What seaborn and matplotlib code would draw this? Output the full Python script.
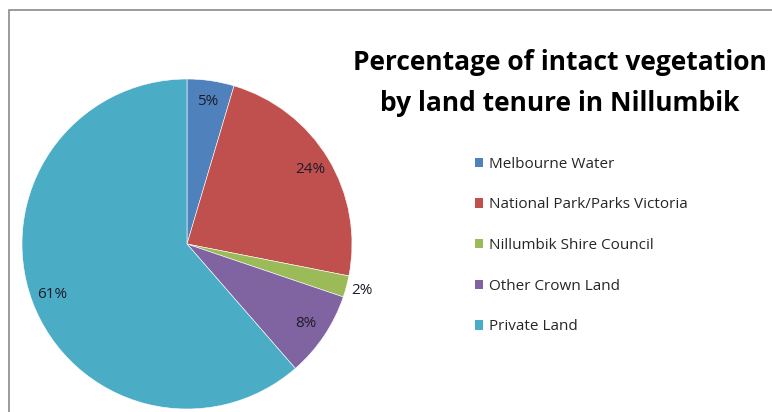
import numpy as np
import matplotlib
matplotlib.use("Agg")
import matplotlib.pyplot as plt
from matplotlib.patches import Rectangle, Patch
import seaborn as sns

categories = ["Melbourne Water", "National Park/Parks Victoria",
              "Nillumbik Shire Council", "Other Crown Land", "Private Land"]
values = [4.6, 23.5, 2.1, 8.4, 61.4]
pct_labels = ["5%", "24%", "2%", "8%", "61%"]
title = "Percentage of intact vegetation\nby land tenure in Nillumbik"
colors = ["#4F81BD", "#C0504D", "#9BBB59", "#8064A2", "#4BACC6"]

sns.set_theme(style="white")
plt.rcParams["font.family"] = ["Open Sans", "DejaVu Sans"]

W, H = 772, 412
fig = plt.figure(figsize=(W / 100, H / 100), dpi=100)
fig.patch.set_facecolor("white")

# border (top/left visible)
fig.add_artist(Rectangle((9 / W, -0.2), 1.5, 1.2 - 10 / H,
                         transform=fig.transFigure, fill=False,
                         edgecolor="#8a8a8a", linewidth=1.2))

cx, cy, R = 187, 244, 165
ax = fig.add_axes([(cx - R) / W, (H - cy - R) / H, 2 * R / W, 2 * R / H])
wedges, _ = ax.pie(values, colors=colors, startangle=90, counterclock=False,
                   radius=1.0, wedgeprops=dict(edgecolor="white", linewidth=0.4))
ax.set_xlim(-1, 1)
ax.set_ylim(-1, 1)
ax.set_aspect("equal")
ax.axis("off")

for w, lab, v in zip(wedges, pct_labels, values):
    ang = np.deg2rad((w.theta1 + w.theta2) / 2)
    r = 1.1 if v < 3 else 0.87
    ax.text(r * np.cos(ang), r * np.sin(ang), lab, ha="center", va="center",
            fontsize=11, color="#1c1c2a", clip_on=False)

fig.text(560 / W, 1 - 83 / H, title, ha="center", va="center",
         fontsize=19, fontweight="bold", color="#000000", linespacing=1.62)

handles = [Patch(facecolor=c, edgecolor="none") for c in colors]
leg = fig.legend(handles, categories, loc="upper left",
                 bbox_to_anchor=(461 / W, 1 - 143 / H), frameon=False,
                 fontsize=11, handlelength=0.55, handleheight=0.55,
                 handletextpad=0.4, labelspacing=1.68)
for t in leg.get_texts():
    t.set_color("#262626")

fig.savefig("out.png", dpi=100, facecolor="white")
